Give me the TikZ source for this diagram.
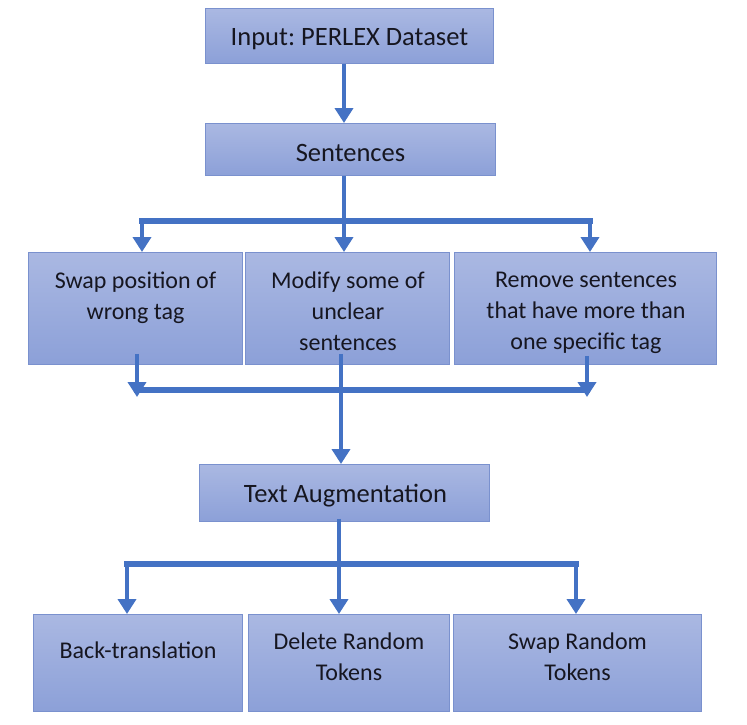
\documentclass[tikz,border=0pt]{standalone}
\usepackage{fontspec}
\setmainfont{Carlito}
\usetikzlibrary{arrows.meta}
\definecolor{boxtop}{RGB}{170,184,226}
\definecolor{boxbot}{RGB}{140,160,216}
\definecolor{boxline}{RGB}{122,145,206}
\definecolor{flow}{RGB}{68,114,196}
\definecolor{ink}{RGB}{22,22,32}
\frenchspacing

\begin{document}
\begin{tikzpicture}[x=1pt,y=-1pt]
\tikzstyle{v}=[rectangle,draw=boxline,line width=0.8pt,top color=boxtop,bottom color=boxbot,inner sep=0pt,anchor=north west]
\tikzstyle{big}=[text=ink,inner sep=0pt,anchor=base,font=\fontsize{26.5}{31}\selectfont]
\tikzstyle{small}=[text=ink,inner sep=0pt,align=center,font=\fontsize{24}{31}\selectfont]
\tikzstyle{arr}=[draw=flow,line width=4.5pt,-{Triangle[length=15pt,width=18pt]}]
\tikzstyle{stem}=[draw=flow,line width=4.5pt]
\tikzstyle{bar}=[draw=flow,line width=6pt,line cap=rect]

\path[use as bounding box,fill=white] (0,0) rectangle (747,724);

\node[v,minimum width=288pt,minimum height=55pt] (input) at (205,8) {};
\node[v,minimum width=290pt,minimum height=52pt] (sent) at (205,123) {};
\node[v,minimum width=214pt,minimum height=112pt] (swap) at (28,252) {};
\node[v,minimum width=204pt,minimum height=112pt] (modify) at (245,252) {};
\node[v,minimum width=262pt,minimum height=112pt] (remove) at (454,252) {};
\node[v,minimum width=290pt,minimum height=57pt] (aug) at (199,464) {};
\node[v,minimum width=209pt,minimum height=97pt] (back) at (33,614) {};
\node[v,minimum width=201pt,minimum height=97pt] (delete) at (248,614) {};
\node[v,minimum width=248pt,minimum height=97pt] (swaprand) at (453,614) {};

\node[big] (inputtx) at (349.5,45.7) {Input: PERLEX Dataset};
\node[big] (senttx) at (350.5,161) {Sentences};
\node[small,anchor=north] (swaptx) at (135.5,272) {Swap position of\\wrong tag};
\node[small,anchor=north] (modifytx) at (348,272) {Modify some of\\unclear\\sentences};
\node[small,anchor=north] (removetx) at (586,271.5) {Remove sentences\\that have more than\\one specific tag};
\node[big] (augtx) at (345.5,502) {Text Augmentation};
\node[small,anchor=base] (backtx) at (138,658) {Back-translation};
\node[small,anchor=north] (deletetx) at (349,633) {Delete Random\\Tokens};
\node[small,anchor=north] (swaprandtx) at (577.5,633) {Swap Random\\Tokens};

\coordinate (c0) at (344,0);
\coordinate (s1) at (344,221);
\coordinate (s1l) at (142,221);
\coordinate (s1r) at (590,221);
\coordinate (m1) at (341,390);
\coordinate (m1l) at (137,390);
\coordinate (m1r) at (587,390);
\coordinate (s2) at (339,564);
\coordinate (s2l) at (127,564);
\coordinate (s2r) at (576,564);

\draw[arr] (input.south -| c0) -- (sent.north -| c0);

% split into the three cleaning steps
\draw[stem] (sent.south -| s1) -- (s1);
\draw[bar] (s1l) -- (s1r);
\draw[arr] (s1l) -- (swap.north -| s1l);
\draw[arr] (s1) -- (modify.north -| s1);
\draw[arr] (s1r) -- (remove.north -| s1r);

% merge
\draw[bar] (m1l) -- (m1r);
\draw[arr] ([yshift=11pt]swap.south -| m1l) -- ([yshift=-7pt]m1l);
\draw[arr] ([yshift=9pt]remove.south -| m1r) -- ([yshift=-7pt]m1r);
\draw[arr] ([yshift=11pt]modify.south -| m1) -- (aug.north -| m1);

% split into the augmentation methods
\draw[stem] ([yshift=3pt]aug.south -| s2) -- (s2);
\draw[bar] (s2l) -- (s2r);
\draw[arr] (s2l) -- (back.north -| s2l);
\draw[arr] (s2) -- (delete.north -| s2);
\draw[arr] (s2r) -- (swaprand.north -| s2r);
\end{tikzpicture}
\end{document}
